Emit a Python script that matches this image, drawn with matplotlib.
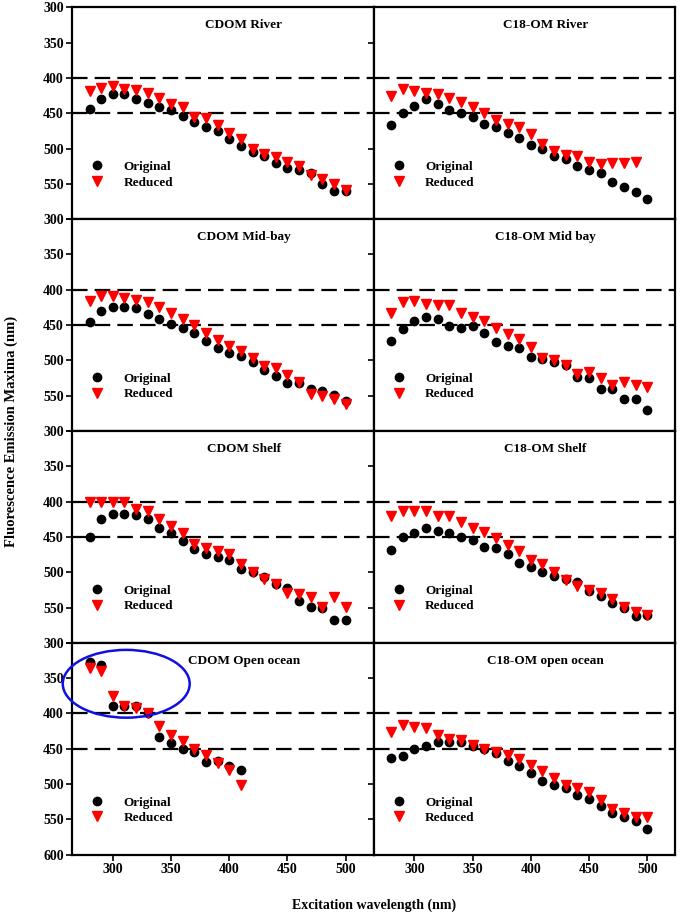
import matplotlib.pyplot as plt
from matplotlib.patches import Ellipse

plt.rcParams['font.family'] = ['Liberation Serif', 'DejaVu Serif']
plt.rcParams['font.weight'] = 'bold'

# excitation wavelengths (nm)
excitation = [280, 290, 300, 310, 320, 330, 340, 350, 360, 370, 380, 390,
              400, 410, 420, 430, 440, 450, 460, 470, 480, 490, 500]

# emission maxima (nm)
cdom_river_orig = [444, 430, 423, 423, 430, 436, 441, 446, 454, 462, 470, 475,
                   486, 496, 505, 511, 520, 527, 530, 535, 550, 560, 560]
cdom_river_red = [418, 414, 412, 415, 417, 421, 429, 437, 441, 456, 457, 467,
                  478, 486, 500, 508, 512, 519, 524, 537, 543, 550, 559]
c18_river_orig = [467, 450, 440, 430, 437, 445, 450, 455, 465, 470, 478, 485,
                  495, 500, 510, 515, 525, 530, 534, 547, 555, 562, 572]
c18_river_red = [425, 415, 418, 421, 423, 428, 434, 441, 450, 460, 465, 470,
                 479, 494, 503, 509, 511, 519, 522, 521, 521, 519]

cdom_midbay_orig = [445, 430, 424, 424, 426, 435, 441, 448, 454, 461, 472, 482,
                    490, 494, 502, 513, 522, 532, 532, 540, 543, 549, 557]
cdom_midbay_red = [416, 409, 409, 412, 415, 418, 425, 433, 441, 450, 461, 471,
                   480, 487, 496, 508, 511, 521, 530, 547, 551, 555, 562]
c18_midbay_orig = [472, 456, 444, 439, 441, 452, 454, 451, 461, 474, 479, 482,
                   495, 498, 502, 506, 524, 525, 540, 541, 554, 555, 570]
c18_midbay_red = [433, 418, 416, 420, 422, 421, 433, 439, 444, 454, 463, 469,
                  481, 497, 500, 507, 519, 517, 525, 535, 531, 535, 538]

cdom_shelf_orig = [450, 425, 417, 418, 419, 425, 437, 445, 456, 467, 474, 478,
                   483, 495, 500, 507, 516, 522, 541, 549, 550, 568, 568]
cdom_shelf_red = [400, 400, 400, 400, 410, 414, 425, 435, 444, 460, 465, 470,
                  474, 488, 500, 510, 516, 529, 531, 535, 549, 535, 549]
c18_shelf_orig = [469, 450, 445, 437, 441, 444, 450, 455, 464, 466, 474, 487,
                  492, 500, 505, 510, 514, 526, 533, 544, 551, 562, 561]
c18_shelf_red = [421, 414, 414, 413, 421, 421, 429, 437, 443, 452, 461, 470,
                 482, 488, 500, 511, 520, 525, 530, 538, 549, 557, 561]

cdom_ocean_orig = [327, 332, 390, 389, 389, 399, 433, 442, 450, 455, 469, 468,
                   475, 480]
cdom_ocean_red = [335, 340, 375, 390, 393, 399, 418, 430, 439, 450, 459, 470,
                  480, 501]
c18_ocean_orig = [463, 460, 450, 446, 441, 441, 441, 446, 451, 456, 468, 474,
                  484, 495, 501, 506, 516, 521, 531, 541, 546, 552, 564]
c18_ocean_red = [426, 416, 419, 421, 430, 436, 437, 444, 450, 455, 459, 464,
                 473, 481, 491, 501, 506, 511, 522, 535, 541, 546, 546]

titles = [["CDOM River", "C18-OM River"],
          ["CDOM Mid-bay", "C18-OM Mid bay"],
          ["CDOM Shelf", "C18-OM Shelf"],
          ["CDOM Open ocean", "C18-OM open ocean"]]
series = [[(cdom_river_orig, cdom_river_red), (c18_river_orig, c18_river_red)],
          [(cdom_midbay_orig, cdom_midbay_red), (c18_midbay_orig, c18_midbay_red)],
          [(cdom_shelf_orig, cdom_shelf_red), (c18_shelf_orig, c18_shelf_red)],
          [(cdom_ocean_orig, cdom_ocean_red), (c18_ocean_orig, c18_ocean_red)]]

fig, axes = plt.subplots(4, 2, figsize=(6.8, 9.18), dpi=100)
fig.subplots_adjust(left=0.106, right=0.993, top=0.992, bottom=0.069,
                    hspace=0, wspace=0)

yticks = [300, 350, 400, 450, 500, 550, 600]
for i in range(4):
    for j in range(2):
        ax = axes[i, j]
        orig, red = series[i][j]
        for y in (400, 450):
            ax.axhline(y, color="black", linewidth=1.6, linestyle=(0, (7, 3.2)),
                       zorder=1)
        ax.plot(excitation[:len(orig)], orig, linestyle="none", marker="o",
                markersize=6, color="black", label="Original", zorder=3)
        ax.plot(excitation[:len(red)], red, linestyle="none", marker="v",
                markersize=6.5, color="red", markeredgecolor="red",
                label="Reduced", zorder=4)
        ax.set_xlim(265, 524)
        ax.set_ylim(600, 300)
        ax.set_xticks([300, 350, 400, 450, 500])
        ax.set_yticks(yticks)
        if j == 0:
            labels = [str(v) for v in yticks]
            if i < 3:
                labels[-1] = ""
            ax.set_yticklabels(labels)
        else:
            ax.set_yticklabels([])
        if i < 3:
            ax.set_xticklabels([])
        ax.tick_params(direction="out", length=4, width=1.2, labelsize=10,
                       pad=2)
        for sp in ax.spines.values():
            sp.set_linewidth(1.6)
        ax.text(0.57, 0.915, titles[i][j], transform=ax.transAxes,
                ha="center", va="center", fontsize=9.5, fontweight="bold")
        ax.legend(loc="center left", bbox_to_anchor=(0.0, 0.21),
                  frameon=False, handletextpad=1.0, labelspacing=0.25,
                  prop={"size": 9.5, "weight": "bold"})

# highlight of the short-wavelength points in CDOM Open ocean
ell = Ellipse((311.5, 358), 109, 96, fill=False, edgecolor="#1010e0",
              linewidth=1.8, clip_on=False, zorder=5)
axes[3, 0].add_patch(ell)

fig.text(0.55, 0.014, "Excitation wavelength (nm)", ha="center",
         va="center", fontsize=10, fontweight="bold")
fig.text(0.016, 0.53, "Fluorescence Emission Maxima (nm)", ha="center",
         va="center", rotation=90, fontsize=10.5, fontweight="bold")

fig.savefig("out.png", dpi=100)
